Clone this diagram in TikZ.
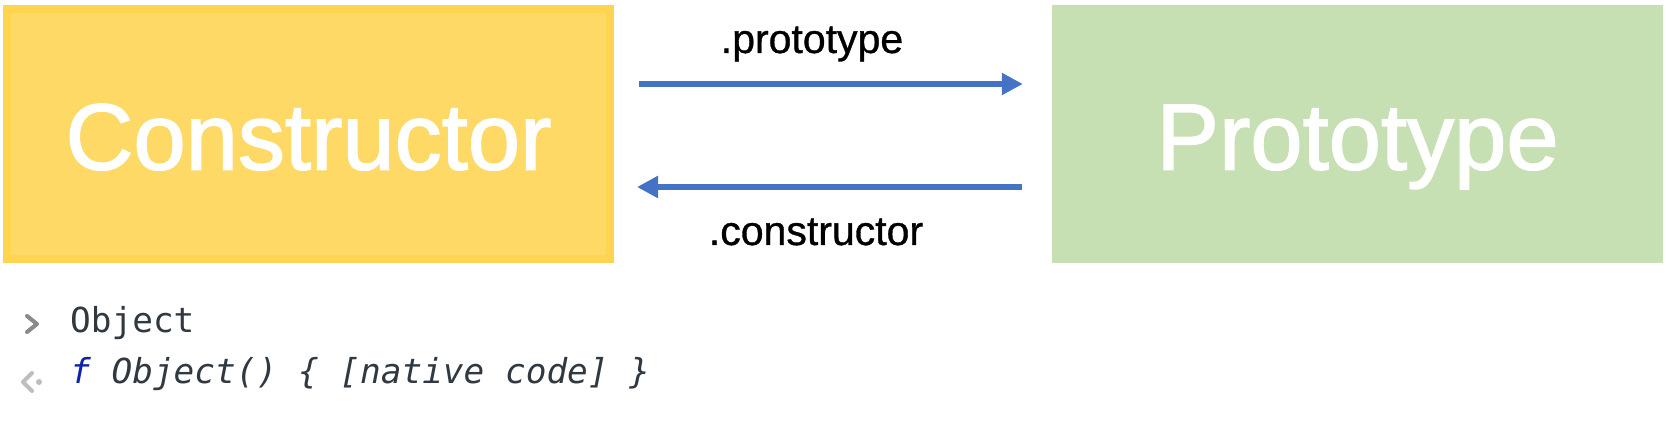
\documentclass[tikz,border=0pt]{standalone}
\usepackage{fontspec}
\setmainfont{Liberation Sans}
\newfontfamily\consolefont{DejaVu Sans Mono}
\newfontfamily\heavysans[FakeBold=1.6]{Liberation Sans}
\newfontfamily\labelsans[FakeBold=0.8]{Liberation Sans}
\usetikzlibrary{arrows.meta}
\definecolor{consfill}{HTML}{FFD966}
\definecolor{consline}{HTML}{FFD44F}
\definecolor{protofill}{HTML}{C6E0B4}
\definecolor{arrowblue}{HTML}{4472C4}
\definecolor{consoletext}{HTML}{303942}
\definecolor{fnblue}{HTML}{0D22AA}
\definecolor{promptgray}{HTML}{8A8A8A}
\definecolor{resultgray}{HTML}{BDBDBD}
\tikzset{
  bigbox/.style={inner sep=0pt, text=white, text height=71pt, text depth=0pt,
    font=\heavysans\fontsize{94}{100}\selectfont},
  linklabel/.style={anchor=base, inner sep=0pt, font=\labelsans\fontsize{41}{46}\selectfont, text=black},
  linkarrow/.style={draw=arrowblue, line width=6.5pt, -{Triangle[length=21pt,width=21pt]}},
  consoleline/.style={anchor=base west, inner sep=0pt, text=consoletext,
    font=\consolefont\fontsize{34.4}{40}\selectfont},
  prompt/.style={line width=4pt, line cap=round, line join=round},
}
\begin{document}
\begin{tikzpicture}[x=1pt,y=-1pt]
\useasboundingbox (0,0) rectangle (1666,446);
\node[bigbox, fill=consfill, draw=consline, line width=8pt,
  minimum width=603pt, minimum height=250pt] (cons) at (308.5,134) {Constructor};
\node[bigbox, fill=protofill, minimum width=611pt, minimum height=258pt] (proto) at (1357.5,134) {Prototype};
\draw[linkarrow] ([xshift=25pt,yshift=50pt]cons.east) -- ([xshift=-29pt,yshift=50pt]proto.west);
\draw[linkarrow] ([xshift=-30pt,yshift=-53pt]proto.west) -- ([xshift=23pt,yshift=-53pt]cons.east);
\node[linklabel] (lproto) at (812,53) {.prototype};
\node[linklabel] (lcons) at (816,245) {.constructor};
\draw[prompt, draw=promptgray] (27,316) -- (37,324) -- (27,332);
\draw[prompt, draw=resultgray] (32,373) -- (23,382) -- (32,391);
\fill[resultgray] (39,382) circle (3pt);
\node[consoleline] (in) at (70,333) {Object};
\node[consoleline] (out) at (70,384) {\itshape{\color{fnblue}f} Object() \{ [native code] \}};
\end{tikzpicture}
\end{document}
